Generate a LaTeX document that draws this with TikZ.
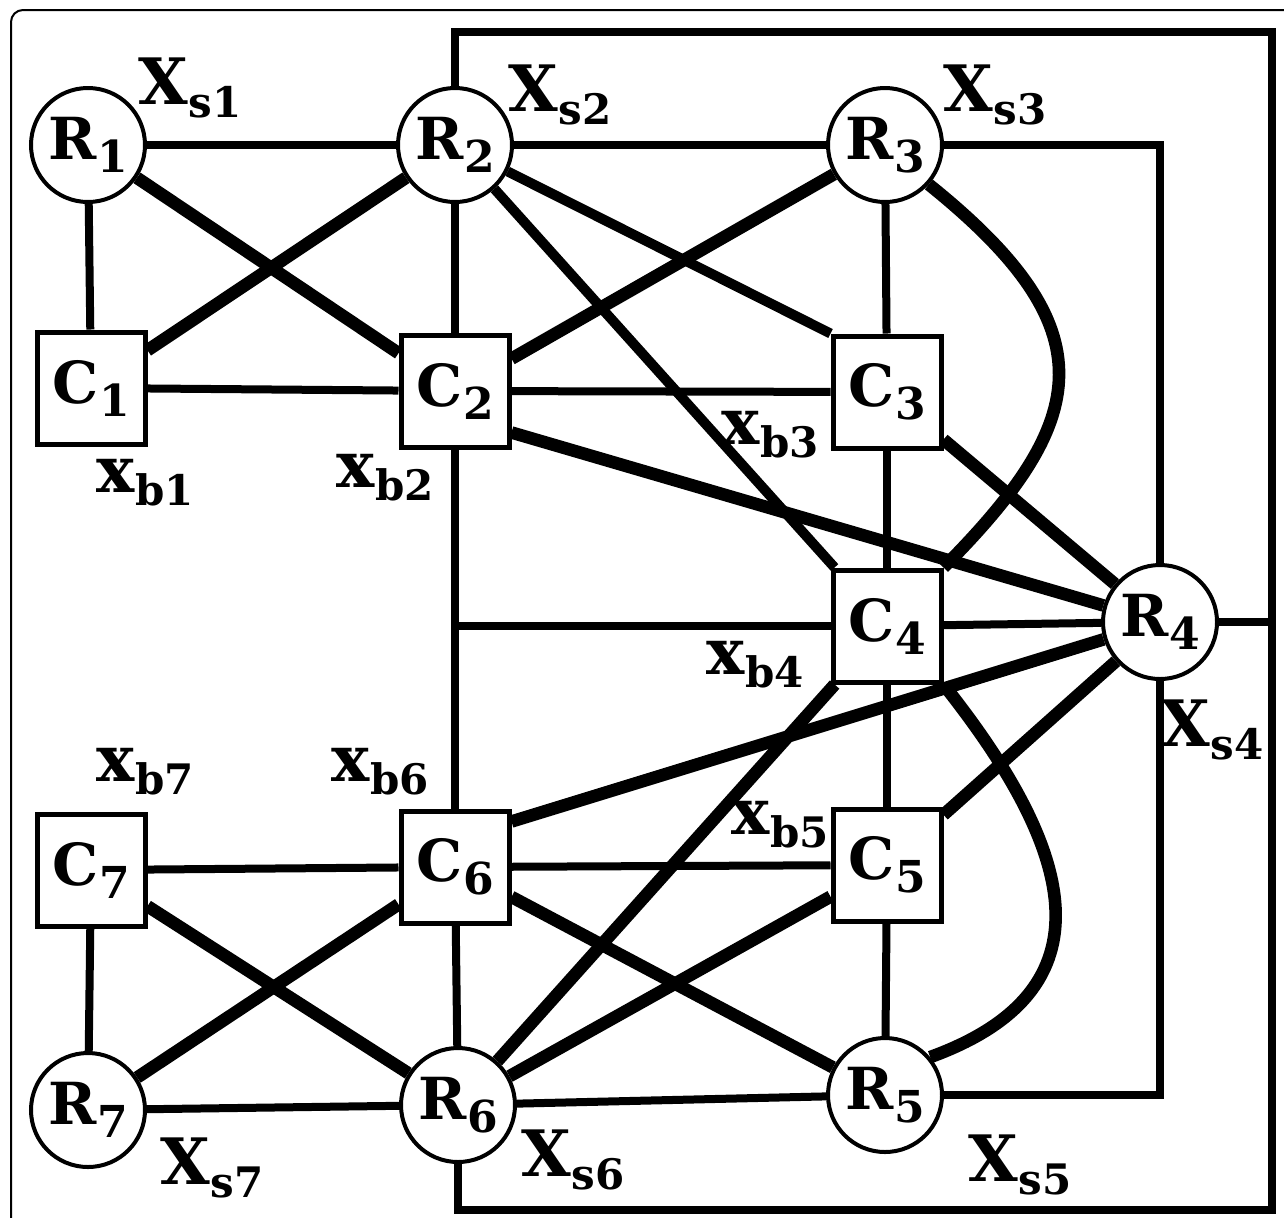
\documentclass[tikz,border=0pt]{standalone}
\usepackage{fontspec}
\setmainfont{DejaVu Serif}
\usetikzlibrary{calc}
\newcommand{\lab}[2]{#1\kern0.01em\raisebox{-6.5pt}{\fontsize{22}{22}\selectfont #2}}
\newcommand{\slab}[2]{#1\kern0.01em\raisebox{-6.5pt}{\fontsize{21}{21}\selectfont #2}}
\begin{document}
\begin{tikzpicture}[x=0.5pt,y=-0.5pt,
  rnode/.style={circle,draw,line width=2pt,fill=white,minimum size=57pt,inner sep=0pt,font=\fontsize{29}{29}\selectfont\bfseries},
  cnode/.style={rectangle,draw,line width=2.5pt,fill=white,minimum width=54pt,minimum height=56pt,inner sep=0pt,font=\fontsize{29}{29}\selectfont\bfseries},
  ln/.style={line width=4pt},
  mid/.style={line width=5pt},
  thk/.style={line width=6.3pt},
  frame/.style={line width=4.3pt,line join=miter},
  lbl/.style={inner sep=0pt,font=\fontsize{32}{32}\selectfont\bfseries}]
\useasboundingbox (0,0) rectangle (1284,1217);
\clip (0,0) rectangle (1284,1217);
\draw[line width=1pt,rounded corners=6pt] (11,10) rectangle (1320,1260);
% nodes
\node[rnode] (R1) at (88,145) {\lab{R}{1}};
\node[rnode] (R2) at (455,145) {\lab{R}{2}};
\node[rnode] (R3) at (885,145) {\lab{R}{3}};
\node[rnode] (R4) at (1160,622) {\lab{R}{4}};
\node[rnode] (R5) at (885,1095) {\lab{R}{5}};
\node[rnode] (R6) at (458,1105) {\lab{R}{6}};
\node[rnode] (R7) at (88,1110) {\lab{R}{7}};
\node[cnode] (C1) at (91,388) {\lab{C}{1}};
\node[cnode] (C2) at (455,391) {\lab{C}{2}};
\node[cnode] (C3) at (887,392) {\lab{C}{3}};
\node[cnode] (C4) at (887,626) {\lab{C}{4}};
\node[cnode] (C5) at (887,865) {\lab{C}{5}};
\node[cnode] (C6) at (455,867) {\lab{C}{6}};
\node[cnode] (C7) at (91,870) {\lab{C}{7}};
% frame and buses
\coordinate (tl) at (455,32);
\coordinate (tr) at (1272,32);
\coordinate (br) at (1272,1210);
\coordinate (bl) at (458,1210);
\draw[frame] (R2) -- (tl) -- (tr) -- (br) -- (bl) -- (R6);
\draw[ln,line join=miter] (R3) -- (R3 -| R4) -- (R4);
\draw[ln,line join=miter] (R4) -- (R5 -| R4) -- (R5);
\draw[ln] (R4) -- (R4 -| br);
\coordinate (J) at (C2 |- C4);
\draw[ln] (C2) -- (C6);
\draw[ln] (J) -- (C4);
% thin edges
\draw[ln] (R1) -- (R2);
\draw[ln] (R1) -- (C1);
\draw[ln] (C1) -- (C2);
\draw[ln] (R2) -- (C2);
\draw[ln] (R2) -- (R3);
\draw[ln] (R3) -- (C3);
\draw[ln] (C2) -- (C3);
\draw[ln] (C3) -- (C4);
\draw[ln] (C4) -- (C5);
\draw[ln] (C4) -- (R4);
\draw[ln] (C5) -- (R5);
\draw[ln] (C6) -- (C5);
\draw[ln] (C7) -- (C6);
\draw[ln] (C7) -- (R7);
\draw[ln] (C6) -- (R6);
\draw[ln] (R7) -- (R6);
\draw[ln] (R6) -- (R5);
% thick edges
\draw[thk] (R1) -- (C2);
\draw[thk] (C1) -- (R2);
\draw[mid] (R2) -- (C3.north west);
\draw[mid] (R2) -- (C4);
\draw[thk] (C2) -- (R3);
\draw[thk] ($(C2.south east)+(0,-17)$) -- (R4);
\draw[thk] (R3.-42) .. controls (1110,330) and (1090,420) .. (C4.north east);
\draw[thk] (C3) -- (R4);
\draw[thk] ($(C6.north east)+(0,13)$) -- (R4);
\draw[thk] (C5) -- (R4);
\draw[thk] (C4) -- (R6);
\draw[thk] (C4.south east) .. controls (1075,850) and (1115,990) .. (R5.40);
\draw[thk] (C6) -- (R5);
\draw[thk] (C5) -- (R6);
\draw[thk] (C7) -- (R6);
\draw[thk] (C6) -- (R7);
% labels
\node[lbl] (xs1) at (190,88) {\slab{X}{s1}};
\node[lbl] (xs2) at (560,95) {\slab{X}{s2}};
\node[lbl] (xs3) at (995,95) {\slab{X}{s3}};
\node[lbl] (xs4) at (1212,730) {\slab{X}{s4}};
\node[lbl] (xs5) at (1020,1165) {\slab{X}{s5}};
\node[lbl] (xs6) at (573,1160) {\slab{X}{s6}};
\node[lbl] (xs7) at (212,1168) {\slab{X}{s7}};
\node[lbl] (xb1) at (145,483) {\slab{x}{b1}};
\node[lbl] (xb2) at (385,478) {\slab{x}{b2}};
\node[lbl] (xb3) at (770,435) {\slab{x}{b3}};
\node[lbl] (xb4) at (755,665) {\slab{x}{b4}};
\node[lbl] (xb5) at (780,825) {\slab{x}{b5}};
\node[lbl] (xb6) at (380,772) {\slab{x}{b6}};
\node[lbl] (xb7) at (145,772) {\slab{x}{b7}};
\end{tikzpicture}
\end{document}
